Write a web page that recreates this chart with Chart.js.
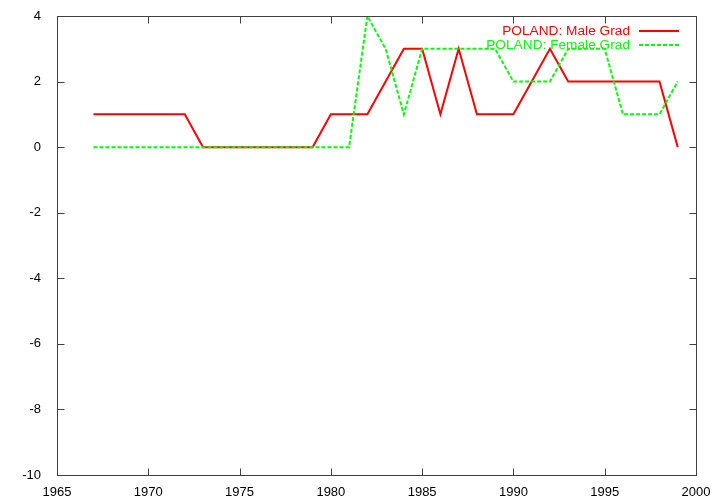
<!DOCTYPE html>
<html>
<head>
<meta charset="utf-8">
<script src="https://cdn.jsdelivr.net/npm/chart.js@4/dist/chart.umd.min.js"></script>
<style>
  body { margin: 0; background: #fff; }
  #wrap { width: 720px; height: 504px; position: relative; }
</style>
</head>
<body>
<div id="wrap"><canvas id="gradChart"></canvas></div>
<script>
/* ================= DATA ================= */
const years = [1967, 1968, 1969, 1970, 1971, 1972, 1973, 1974, 1975, 1976, 1977, 1978, 1979,
               1980, 1981, 1982, 1983, 1984, 1985, 1986, 1987, 1988, 1989, 1990, 1991, 1992,
               1993, 1994, 1995, 1996, 1997, 1998, 1999];

const maleGrad   = [1, 1, 1, 1, 1, 1, 0, 0, 0, 0, 0, 0, 0,
                    1, 1, 1, 2, 3, 3, 1, 3, 1, 1, 1, 2, 3,
                    2, 2, 2, 2, 2, 2, 0];

const femaleGrad = [0, 0, 0, 0, 0, 0, 0, 0, 0, 0, 0, 0, 0,
                    0, 0, 4, 3, 1, 3, 3, 3, 3, 3, 2, 2, 2,
                    3, 3, 3, 1, 1, 1, 2];

const seriesLabels = ["POLAND: Male Grad", "POLAND: Female Grad"];
const xTicks = { min: 1965, max: 2000, step: 5 };
const yTicks = { min: -10, max: 4, step: 2 };

const FONT = "'Liberation Sans', Arial, sans-serif";

function toPoints(vals) {
    return years.map((y, i) => ({ x: y, y: vals[i] }));
}

/* ================= FRAME + LEGEND (gnuplot style) ================= */
const framePlugin = {
    id: "frame",
    afterDatasetsDraw(chart) {
        const { ctx, chartArea: a, scales } = chart;
        const L = Math.round(a.left) + 0.5, R = Math.round(a.right) + 0.5;
        const T = Math.round(a.top) + 0.5, B = Math.round(a.bottom) + 0.5;
        const tk = 7;

        ctx.save();
        ctx.strokeStyle = "#404040";
        ctx.lineWidth = 1;
        ctx.strokeRect(L, T, R - L, B - T);

        ctx.beginPath();
        scales.x.ticks.forEach(t => {
            const px = Math.round(scales.x.getPixelForValue(t.value)) + 0.5;
            ctx.moveTo(px, B); ctx.lineTo(px, B - tk);
            ctx.moveTo(px, T); ctx.lineTo(px, T + tk);
        });
        scales.y.ticks.forEach(t => {
            const py = Math.round(scales.y.getPixelForValue(t.value)) + 0.5;
            ctx.moveTo(L, py); ctx.lineTo(L + tk, py);
            ctx.moveTo(R, py); ctx.lineTo(R - tk, py);
        });
        ctx.stroke();

        // legend: right aligned text, sample line to the right
        ctx.font = "13.7px " + FONT;
        ctx.textAlign = "right";
        ctx.textBaseline = "middle";
        chart.data.datasets.forEach((ds, i) => {
            const y = 31 + i * 14;
            ctx.fillStyle = ds.borderColor;
            ctx.fillText(ds.label, 630, y);
            ctx.strokeStyle = ds.borderColor;
            ctx.lineWidth = 2;
            ctx.setLineDash(ds.borderDash || []);
            ctx.beginPath();
            ctx.moveTo(639, y);
            ctx.lineTo(679, y);
            ctx.stroke();
        });
        ctx.restore();
    }
};

/* ================= CHART ================= */
const gradChart = new Chart(document.getElementById("gradChart"), {
    type: "line",
    data: {
        datasets: [
            {
                label: seriesLabels[0],
                data: toPoints(maleGrad),
                borderColor: "#ff0000",
                borderWidth: 2,
                pointRadius: 0,
                tension: 0,
                order: 1
            },
            {
                label: seriesLabels[1],
                data: toPoints(femaleGrad),
                borderColor: "#00ff00",
                borderWidth: 2,
                borderDash: [4, 2],
                pointRadius: 0,
                tension: 0,
                order: 0
            }
        ]
    },
    options: {
        responsive: true,
        maintainAspectRatio: false,
        animation: false,
        layout: { padding: { top: 16, right: 24, bottom: 0, left: 0 } },
        plugins: {
            legend: { display: false },
            tooltip: { enabled: false }
        },
        scales: {
            x: {
                type: "linear",
                min: xTicks.min,
                max: xTicks.max,
                grid: { display: false },
                border: { display: false },
                ticks: {
                    stepSize: xTicks.step,
                    color: "#000",
                    padding: 2,
                    maxRotation: 0,
                    font: { family: FONT, size: 13 },
                    callback: v => String(v)
                },
                afterFit(scale) { scale.height = 29; }
            },
            y: {
                min: yTicks.min,
                max: yTicks.max,
                grid: { display: false },
                border: { display: false },
                ticks: {
                    stepSize: yTicks.step,
                    color: "#000",
                    padding: 8,
                    font: { family: FONT, size: 13 }
                },
                afterFit(scale) { scale.width = 57; }
            }
        }
    },
    plugins: [framePlugin]
});
</script>
</body>
</html>
